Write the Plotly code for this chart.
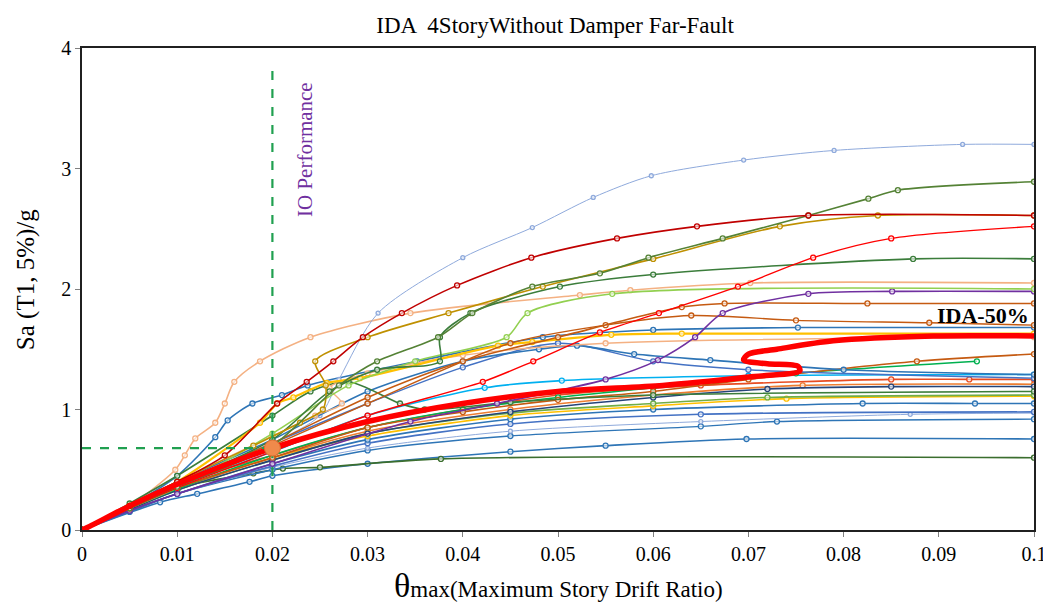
import plotly.graph_objects as go

# ---------------- data ----------------
peach_x = [0, 0.005, 0.0098, 0.0108, 0.0119, 0.014, 0.015, 0.016, 0.0187, 0.024, 0.0345, 0.0523, 0.0576, 0.0702, 0.1]
peach_y = [0, 0.20, 0.50, 0.62, 0.76, 0.89, 1.05, 1.23, 1.40, 1.60, 1.80, 1.95, 1.99, 2.05, 2.05]

steel_x = [0, 0.005, 0.010, 0.014, 0.0153, 0.0179, 0.021, 0.0237, 0.0352, 0.0484, 0.060, 0.0752, 0.1]
steel_y = [0, 0.20, 0.45, 0.77, 0.91, 1.05, 1.12, 1.20, 1.40, 1.60, 1.66, 1.68, 1.68]

ltblue_x = [0, 0.005, 0.010, 0.015, 0.020, 0.025, 0.027, 0.0311, 0.040, 0.0473, 0.0537, 0.0598, 0.0695, 0.079, 0.0925, 0.1]
ltblue_y = [0, 0.20, 0.38, 0.55, 0.72, 0.95, 1.25, 1.80, 2.26, 2.51, 2.76, 2.94, 3.07, 3.15, 3.20, 3.20]

dkred_x = [0, 0.005, 0.010, 0.015, 0.0205, 0.0236, 0.0264, 0.0295, 0.0336, 0.0394, 0.0472, 0.0562, 0.0646, 0.0763, 0.1]
dkred_y = [0, 0.20, 0.40, 0.62, 1.05, 1.23, 1.40, 1.60, 1.80, 2.03, 2.26, 2.42, 2.52, 2.61, 2.61]

olive_x = [0, 0.005, 0.010, 0.020, 0.027, 0.031, 0.0374, 0.041, 0.0473, 0.0544, 0.0595, 0.0673, 0.0763, 0.0826, 0.0857, 0.1]
olive_y = [0, 0.18, 0.36, 0.70, 1.20, 1.40, 1.60, 1.80, 2.02, 2.13, 2.26, 2.42, 2.61, 2.75, 2.82, 2.89]

gold_x = [0, 0.005, 0.010, 0.018, 0.0229, 0.0253, 0.0256, 0.0245, 0.030, 0.0385, 0.0484, 0.060, 0.0733, 0.0836, 0.1]
gold_y = [0, 0.20, 0.40, 0.70, 0.89, 1.00, 1.20, 1.40, 1.60, 1.80, 2.02, 2.25, 2.52, 2.61, 2.61]

red_x = [0, 0.005, 0.010, 0.020, 0.030, 0.0421, 0.0474, 0.0544, 0.0606, 0.0689, 0.0768, 0.085, 0.1]
red_y = [0, 0.18, 0.35, 0.65, 0.95, 1.23, 1.40, 1.64, 1.80, 2.02, 2.26, 2.42, 2.52]

dkgreen_x = [0, 0.005, 0.010, 0.020, 0.026, 0.031, 0.0376, 0.0376, 0.0408, 0.0502, 0.060, 0.0873, 0.1]
dkgreen_y = [0, 0.20, 0.38, 0.75, 1.15, 1.33, 1.40, 1.60, 1.80, 2.02, 2.12, 2.25, 2.25]

ltgreen_x = [0, 0.005, 0.010, 0.020, 0.028, 0.035, 0.0446, 0.0468, 0.0557, 0.1]
ltgreen_y = [0, 0.18, 0.35, 0.80, 1.20, 1.40, 1.60, 1.80, 1.96, 2.00]

purple_x = [0, 0.005, 0.010, 0.020, 0.0345, 0.0436, 0.055, 0.0605, 0.0644, 0.0673, 0.0763, 0.0851, 0.1]
purple_y = [0, 0.16, 0.30, 0.55, 0.90, 1.05, 1.25, 1.41, 1.60, 1.80, 1.96, 1.98, 1.98]

brown_x = [0, 0.005, 0.010, 0.020, 0.030, 0.040, 0.050, 0.063, 0.0675, 0.0825, 0.1]
brown_y = [0, 0.19, 0.38, 0.72, 1.10, 1.40, 1.60, 1.85, 1.88, 1.88, 1.88]

brown2_x = [0, 0.005, 0.010, 0.020, 0.030, 0.045, 0.055, 0.064, 0.075, 0.089, 0.1]
brown2_y = [0, 0.18, 0.36, 0.70, 1.05, 1.55, 1.70, 1.78, 1.74, 1.72, 1.70]

yellow_x = [0, 0.005, 0.010, 0.0187, 0.0205, 0.0222, 0.0257, 0.0292, 0.0437, 0.0473, 0.0556, 0.063, 0.1]
yellow_y = [0, 0.20, 0.40, 0.89, 1.05, 1.10, 1.22, 1.26, 1.53, 1.56, 1.62, 1.63, 1.63]

blue1_x = [0, 0.005, 0.010, 0.020, 0.030, 0.040, 0.048, 0.052, 0.058, 0.066, 0.080, 0.1]
blue1_y = [0, 0.20, 0.40, 0.75, 1.15, 1.40, 1.50, 1.53, 1.46, 1.41, 1.33, 1.29]

blue2_x = [0, 0.005, 0.010, 0.020, 0.030, 0.040, 0.050, 0.060, 0.070, 0.1]
blue2_y = [0, 0.19, 0.38, 0.72, 1.05, 1.35, 1.55, 1.40, 1.33, 1.26]

orbrown_x = [0, 0.005, 0.010, 0.020, 0.030, 0.040, 0.050, 0.060, 0.070, 0.0877, 0.1]
orbrown_y = [0, 0.18, 0.35, 0.60, 0.85, 0.98, 1.08, 1.15, 1.25, 1.40, 1.46]

green_x = [0, 0.005, 0.010, 0.020, 0.030, 0.040, 0.050, 0.060, 0.075, 0.094]
green_y = [0, 0.18, 0.34, 0.62, 0.85, 1.00, 1.10, 1.18, 1.30, 1.40]

redor_x = [0, 0.005, 0.010, 0.020, 0.030, 0.040, 0.050, 0.065, 0.085, 0.0932, 0.1]
redor_y = [0, 0.19, 0.38, 0.62, 0.85, 1.00, 1.12, 1.20, 1.25, 1.25, 1.25]

teal_x = [0, 0.005, 0.010, 0.020, 0.030, 0.0423, 0.0504, 0.070, 0.1]
teal_y = [0, 0.18, 0.36, 0.65, 0.95, 1.18, 1.24, 1.28, 1.29]

slate_x = [0, 0.005, 0.010, 0.020, 0.030, 0.045, 0.060, 0.072, 0.085, 0.1]
slate_y = [0, 0.17, 0.33, 0.58, 0.80, 0.98, 1.10, 1.17, 1.19, 1.19]

orange_x = [0, 0.005, 0.010, 0.020, 0.030, 0.045, 0.060, 0.0757, 0.1]
orange_y = [0, 0.18, 0.34, 0.60, 0.82, 1.00, 1.12, 1.20, 1.21]

grn2_x = [0, 0.005, 0.010, 0.020, 0.030, 0.045, 0.060, 0.072, 0.1]
grn2_y = [0, 0.17, 0.33, 0.58, 0.80, 0.97, 1.05, 1.10, 1.12]

yel2_x = [0, 0.005, 0.010, 0.020, 0.030, 0.045, 0.060, 0.074, 0.1]
yel2_y = [0, 0.18, 0.34, 0.60, 0.78, 0.95, 1.03, 1.09, 1.11]

blue3_x = [0, 0.005, 0.010, 0.020, 0.030, 0.045, 0.060, 0.082, 0.0938, 0.1]
blue3_y = [0, 0.16, 0.30, 0.55, 0.75, 0.92, 1.00, 1.05, 1.05, 1.05]

blue4_x = [0, 0.005, 0.010, 0.020, 0.030, 0.045, 0.065, 0.1]
blue4_y = [0, 0.16, 0.30, 0.53, 0.72, 0.88, 0.96, 0.98]

ltsq_x = [0, 0.005, 0.010, 0.020, 0.030, 0.045, 0.065, 0.087, 0.1]
ltsq_y = [0, 0.16, 0.30, 0.52, 0.68, 0.82, 0.90, 0.96, 0.97]

blue5_x = [0, 0.005, 0.010, 0.020, 0.030, 0.045, 0.065, 0.073, 0.1]
blue5_y = [0, 0.15, 0.30, 0.50, 0.66, 0.78, 0.86, 0.90, 0.92]

blue6_x = [0, 0.0082, 0.0121, 0.0176, 0.020, 0.030, 0.045, 0.055, 0.0698, 0.1]
blue6_y = [0, 0.23, 0.30, 0.40, 0.45, 0.55, 0.65, 0.70, 0.755, 0.755]

dkgrn_low_x = [0, 0.005, 0.010, 0.018, 0.0211, 0.025, 0.0377, 0.1]
dkgrn_low_y = [0, 0.18, 0.35, 0.47, 0.51, 0.52, 0.59, 0.60]

dkgrn_x_x = [0, 0.005, 0.010, 0.020, 0.024, 0.028, 0.0334, 0.036, 0.045, 0.060, 0.1]
dkgrn_x_y = [0, 0.22, 0.45, 0.95, 1.15, 1.23, 1.05, 1.00, 1.06, 1.12, 1.15]

salmon_x = [0, 0.005, 0.010, 0.020, 0.0245, 0.0273, 0.026, 0.030, 0.040, 0.055, 0.1]
salmon_y = [0, 0.20, 0.40, 0.78, 0.95, 1.05, 1.18, 1.30, 1.45, 1.55, 1.60]

ida50_x = [0, 0.0008, 0.005, 0.010, 0.020, 0.030, 0.040, 0.050, 0.061, 0.070, 0.0754, 0.0752, 0.072, 0.0695, 0.0700, 0.073, 0.0789, 0.0894, 0.1]
ida50_y = [0, 0.03, 0.20, 0.38, 0.68, 0.90, 1.05, 1.15, 1.20, 1.27, 1.32, 1.36, 1.38, 1.41, 1.46, 1.50, 1.57, 1.61, 1.61]

io_drift = 0.02
io_sa = 0.68
io_top = 3.82

x_ticks = [0, 0.01, 0.02, 0.03, 0.04, 0.05, 0.06, 0.07, 0.08, 0.09, 0.1]
x_labels = ["0", "0.01", "0.02", "0.03", "0.04", "0.05", "0.06", "0.07", "0.08", "0.09", "0.1"]
y_ticks = [0, 1, 2, 3, 4]

# ---------------- styling ----------------
curves = [
    (peach_x, peach_y, "#F4B183", 1.6),
    (steel_x, steel_y, "#2E75B6", 1.6),
    (ltblue_x, ltblue_y, "#8FAADC", 1.0),
    (blue6_x, blue6_y, "#2E75B6", 1.6),
    (dkgrn_low_x, dkgrn_low_y, "#3B6E2E", 1.6),
    (blue5_x, blue5_y, "#2E75B6", 1.4),
    (ltsq_x, ltsq_y, "#8FAADC", 1.0),
    (blue4_x, blue4_y, "#4472C4", 1.6),
    (blue3_x, blue3_y, "#2E75B6", 1.6),
    (yel2_x, yel2_y, "#FFC000", 1.6),
    (grn2_x, grn2_y, "#70AD47", 1.6),
    (orange_x, orange_y, "#ED7D31", 1.6),
    (slate_x, slate_y, "#264478", 1.6),
    (teal_x, teal_y, "#00B0F0", 1.6),
    (redor_x, redor_y, "#E84C22", 1.6),
    (green_x, green_y, "#00B050", 1.6),
    (orbrown_x, orbrown_y, "#C55A11", 1.6),
    (blue2_x, blue2_y, "#4472C4", 1.4),
    (blue1_x, blue1_y, "#2E75B6", 1.6),
    (dkgrn_x_x, dkgrn_x_y, "#3B7D3B", 1.6),
    (salmon_x, salmon_y, "#F4B183", 1.4),
    (yellow_x, yellow_y, "#FFC000", 2.2),
    (brown2_x, brown2_y, "#C55A11", 1.4),
    (brown_x, brown_y, "#C55A11", 1.6),
    (purple_x, purple_y, "#7030A0", 1.6),
    (ltgreen_x, ltgreen_y, "#92D050", 1.6),
    (dkgreen_x, dkgreen_y, "#3B7D3B", 1.6),
    (red_x, red_y, "#FF0000", 1.4),
    (gold_x, gold_y, "#BF9000", 1.6),
    (olive_x, olive_y, "#548235", 1.6),
    (dkred_x, dkred_y, "#C00000", 1.6),
]

fig = go.Figure()
for xs, ys, col, w in curves:
    fig.add_trace(go.Scatter(
        x=xs, y=ys, mode="lines+markers",
        line=dict(color=col, width=w, shape="spline", smoothing=0.8),
        marker=dict(symbol="circle", size=5 if w > 1.1 else 4, color="rgba(255,255,255,0.6)",
                    line=dict(color=col, width=1.3)),
        showlegend=False, hoverinfo="skip",
    ))

# IDA 50% curve
fig.add_trace(go.Scatter(
    x=ida50_x, y=ida50_y, mode="lines",
    line=dict(color="#FF0000", width=5.5, shape="spline", smoothing=0.8),
    showlegend=False, hoverinfo="skip",
))

# IO performance guide lines
fig.add_trace(go.Scatter(
    x=[io_drift, io_drift], y=[0, io_top], mode="lines",
    line=dict(color="#20A050", width=2.2, dash="dash"),
    showlegend=False, hoverinfo="skip",
))
fig.add_trace(go.Scatter(
    x=[0, io_drift], y=[io_sa, io_sa], mode="lines",
    line=dict(color="#20A050", width=2.2, dash="dash"),
    showlegend=False, hoverinfo="skip",
))
fig.add_trace(go.Scatter(
    x=[io_drift], y=[io_sa], mode="markers",
    marker=dict(size=16, color="#F08A4B", line=dict(color="#E07030", width=1)),
    showlegend=False, hoverinfo="skip",
))

fig.add_annotation(x=0.0234, y=3.16, text="IO Performance", textangle=-90, showarrow=False,
                   font=dict(family="Liberation Serif", size=21, color="#7030A0"))
fig.add_annotation(x=0.0946, y=1.78, text="<b>IDA-50%</b>", showarrow=False,
                   font=dict(family="Liberation Serif", size=22, color="#000000"))

# axis titles
fig.add_annotation(xref="paper", yref="paper", x=0.5, y=-0.115, xanchor="center", yanchor="middle",
                   text="<span style='font-size:34px'>θ</span>max(Maximum Story Drift Ratio)",
                   showarrow=False, font=dict(family="Liberation Serif", size=23, color="#000000"))
fig.add_annotation(xref="paper", yref="paper", x=-0.058, y=0.52, xanchor="center", yanchor="middle",
                   text="Sa (T1, 5%)/g", textangle=-90,
                   showarrow=False, font=dict(family="Liberation Serif", size=25, color="#000000"))

# the page adds an 8px body margin, so the figure is sized and offset to keep the plot in place
fig.update_layout(
    width=1043, height=597,
    margin=dict(l=74, r=17, t=40, b=75),
    paper_bgcolor="white", plot_bgcolor="white",
    title=dict(text="IDA  4StoryWithout Damper Far-Fault", x=0.5245, xanchor="center",
               yref="container", y=0.972, yanchor="middle",
               font=dict(family="Liberation Serif", size=23, color="#000000")),
    font=dict(family="Liberation Serif", color="#000000"),
)
fig.update_xaxes(range=[0, 0.1], tickvals=x_ticks, ticktext=x_labels, automargin=False,
                 showgrid=False, zeroline=False, showline=True, linecolor="#202020", linewidth=1.5,
                 mirror=True, ticks="outside", ticklen=5, tickcolor="#808080",
                 tickfont=dict(family="Liberation Serif", size=20, color="#000000"))
fig.update_yaxes(range=[0, 4], tickvals=y_ticks, automargin=False,
                 showgrid=False, zeroline=False, showline=True, linecolor="#202020", linewidth=1.5,
                 mirror=True, ticks="outside", ticklen=5, tickcolor="#808080",
                 tickfont=dict(family="Liberation Serif", size=20, color="#000000"))

fig.write_html("out.html")
